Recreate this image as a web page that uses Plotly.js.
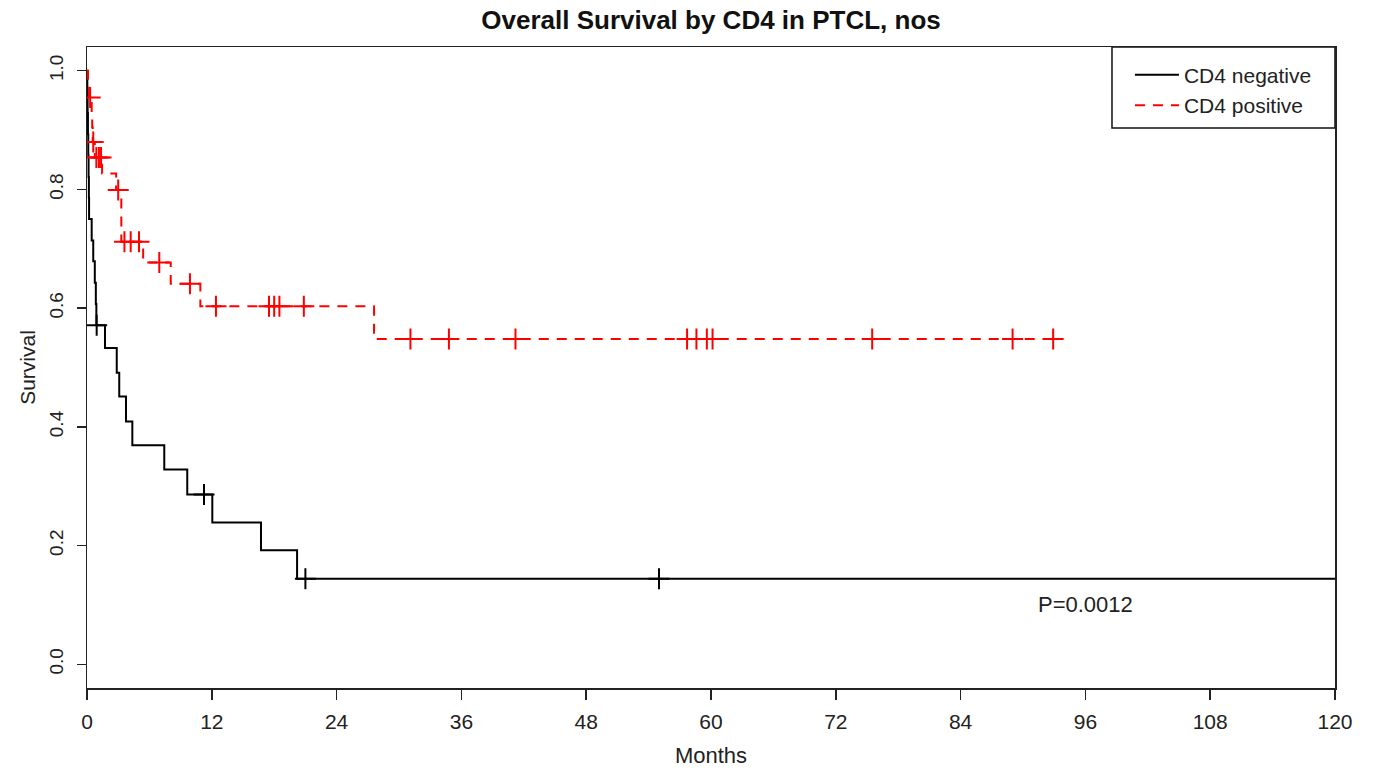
<!DOCTYPE html>
<html>
<head>
<meta charset="utf-8">
<script src="https://cdn.plot.ly/plotly-3.0.1.min.js"></script>
<style>html,body{margin:0;padding:0;background:#fff;}#chart{width:1373px;height:772px;}</style>
</head>
<body>
<div id="chart"></div>
<script>
// CD4 negative: event times (months) and survival after each event
const negTime = [0, 0.03, 0.06, 0.09, 0.12, 0.15, 0.18, 0.2, 0.45, 0.6, 0.75, 0.85, 0.9, 1.73, 2.86, 3.1, 3.75, 4.36, 7.43, 9.64, 12.05, 16.73, 20.2, 120];
const negSurv = [1.0, 0.964, 0.929, 0.893, 0.857, 0.821, 0.786, 0.75, 0.714, 0.679, 0.643, 0.607, 0.571, 0.533, 0.491, 0.451, 0.409, 0.369, 0.328, 0.286, 0.239, 0.192, 0.144, 0.144];
const negCensTime = [0.93, 11.25, 21.0, 55.0];
const negCensSurv = [0.571, 0.286, 0.144, 0.144];

// CD4 positive
const posTime = [0, 0.1, 0.2, 0.45, 0.5, 0.55, 0.75, 1.45, 2.8, 3.3, 5.4, 8.05, 10.9, 27.6, 92.9];
const posSurv = [1.0, 0.977, 0.955, 0.93, 0.905, 0.88, 0.854, 0.827, 0.799, 0.712, 0.677, 0.641, 0.603, 0.548, 0.548];
const posCensTime = [0.3, 0.6, 0.9, 1.15, 1.35, 3.0, 3.6, 4.2, 5.0, 6.95, 9.9, 12.4, 17.5, 18.0, 18.5, 20.85, 31.1, 34.8, 41.2, 57.7, 58.6, 59.6, 60.15, 75.5, 89.0, 92.9];
const posCensSurv = [0.955, 0.88, 0.854, 0.854, 0.854, 0.799, 0.712, 0.712, 0.712, 0.677, 0.641, 0.603, 0.603, 0.603, 0.603, 0.603, 0.548, 0.548, 0.548, 0.548, 0.548, 0.548, 0.548, 0.548, 0.548, 0.548];

const xTicks = [0, 12, 24, 36, 48, 60, 72, 84, 96, 108, 120];
const yTicks = [0, 0.2, 0.4, 0.6, 0.8, 1.0];
const yTickText = ["0.0", "0.2", "0.4", "0.6", "0.8", "1.0"];
const seriesNames = ["CD4 negative", "CD4 positive"];
const pText = "P=0.0012";

const FONT = "Liberation Sans, Arial, Helvetica, sans-serif";
const TXT = '#222';

const traces = [
  {x: negTime, y: negSurv, mode: 'lines', line: {shape: 'hv', color: '#000', width: 2}, name: seriesNames[0]},
  {x: posTime, y: posSurv, mode: 'lines', line: {shape: 'hv', color: '#ff0000', width: 2, dash: '10px,8px'}, name: seriesNames[1]},
  {x: negCensTime, y: negCensSurv, mode: 'markers', showlegend: false, hoverinfo: 'skip',
   marker: {symbol: 'cross-thin', size: 15, line: {color: '#000', width: 2}}},
  {x: posCensTime, y: posCensSurv, mode: 'markers', showlegend: false, hoverinfo: 'skip',
   marker: {symbol: 'cross-thin', size: 15, line: {color: '#ff0000', width: 2}}}
];

const layout = {
  width: 1373, height: 772,
  margin: {l: 87, r: 38, t: 47, b: 84},
  paper_bgcolor: '#fff', plot_bgcolor: '#fff',
  font: {family: FONT, color: TXT, size: 20},
  showlegend: true,
  title: {text: '<b>Overall Survival by CD4 in PTCL, nos</b>', font: {family: FONT, size: 26, color: '#111'},
          x: 0.5, xref: 'paper', xanchor: 'center', y: 0.974, yref: 'container', yanchor: 'middle'},
  xaxis: {
    range: [0, 120], tickvals: xTicks, ticktext: xTicks.map(String),
    showgrid: false, zeroline: false, showline: true, mirror: true, linecolor: '#222', linewidth: 1.5,
    ticks: 'outside', ticklen: 10, tickwidth: 1.5, tickcolor: '#222', ticklabelstandoff: 4,
    tickfont: {family: FONT, size: 21, color: TXT},
    title: {text: 'Months', font: {family: FONT, size: 22, color: TXT}, standoff: 16}
  },
  yaxis: {
    range: [-0.04, 1.04], tickvals: yTicks, ticktext: yTickText, tickangle: -90,
    showgrid: false, zeroline: false, showline: true, mirror: true, linecolor: '#222', linewidth: 1.5,
    ticks: 'outside', ticklen: 9, tickwidth: 1.5, tickcolor: '#222', ticklabelstandoff: 6,
    tickfont: {family: FONT, size: 19, color: TXT},
    title: {text: 'Survival', font: {family: FONT, size: 21, color: TXT}, standoff: 4}
  },
  legend: {
    x: 0.8357, xanchor: 'left', y: 0.988, yanchor: 'top', xref: 'paper', yref: 'paper',
    bgcolor: 'rgba(0,0,0,0)', borderwidth: 0,
    font: {family: FONT, size: 21, color: TXT}, itemwidth: 44, tracegroupgap: 0
  },
  shapes: [
    {type: 'rect', xref: 'paper', yref: 'paper', x0: 0.8213, x1: 1, y0: 0.8736, y1: 1,
     line: {color: '#111', width: 1.5}, fillcolor: '#fff', layer: 'below'}
  ],
  annotations: [
    {x: 96, y: 0.1, xref: 'x', yref: 'y', text: pText, showarrow: false,
     font: {family: FONT, size: 22, color: TXT}, xanchor: 'center', yanchor: 'middle'}
  ]
};

Plotly.newPlot('chart', traces, layout, {displayModeBar: false, staticPlot: true});
</script>
</body>
</html>
